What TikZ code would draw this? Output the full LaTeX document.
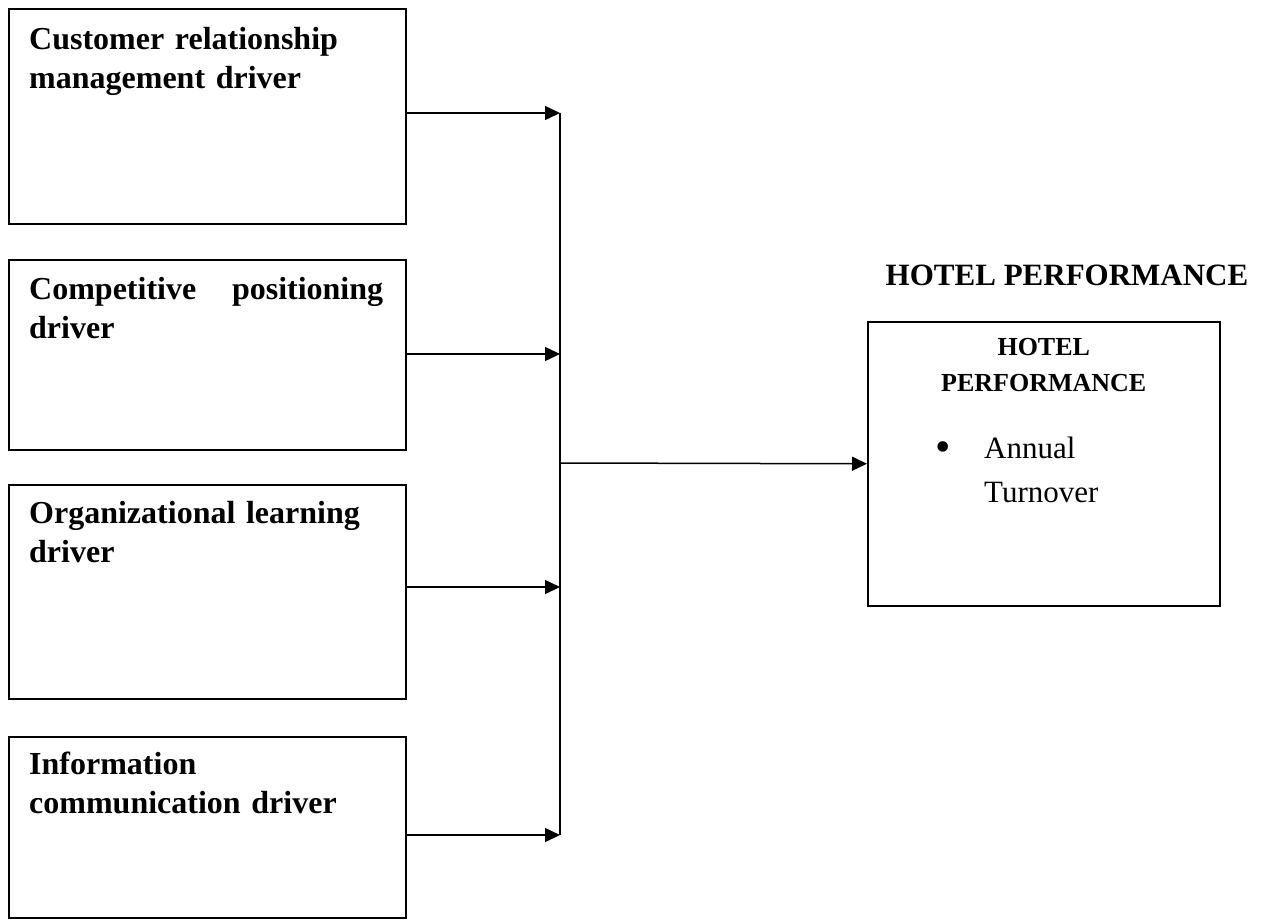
\documentclass[tikz,border=0pt]{standalone}
\usepackage{fontspec}
\setmainfont{Liberation Serif}
\usetikzlibrary{arrows.meta,positioning,calc}
\hyphenpenalty=10000
\exhyphenpenalty=10000

\begin{document}
\begin{tikzpicture}[x=1pt,y=-1pt,
  box/.style={draw,line width=1.5pt,inner sep=0pt,anchor=north west},
  drv/.style={anchor=base west,inner sep=0pt,text width=354pt,align=left,
    font=\fontsize{32}{39}\selectfont\bfseries},
  feed/.style={-{Triangle[length=15pt,width=14pt]},line width=1.5pt}]
  \useasboundingbox (0,0) rectangle (1269,922);

  % 左側の枠
  \node[box,minimum width=397pt,minimum height=215pt] (crm) at (8,8) {};
  \node[box,minimum width=397pt,minimum height=190pt] (comp) at (8,259) {};
  \node[box,minimum width=397pt,minimum height=214pt] (learn) at (8,484) {};
  \node[box,minimum width=397pt,minimum height=181pt] (info) at (8,736) {};

  \node[drv] (crmtxt) at ($(crm.north west)+(21,41)$) {Customer relationship management driver};
  \node[drv,align=justify] (comptxt) at ($(comp.north west)+(21,40)$) {Competitive positioning driver};
  \node[drv] (learntxt) at ($(learn.north west)+(21,39)$) {Organizational learning driver};
  \node[drv] (infotxt) at ($(info.north west)+(21,38)$) {Information communication driver};

  % 右側の枠
  \node[box,minimum width=352pt,minimum height=284pt] (perf) at (867,321) {};
  \node[anchor=base,inner sep=0pt,text width=352pt,align=center,font=\fontsize{26}{36}\selectfont\bfseries]
    (perftxt) at ($(perf.north)+(0,34)$) {HOTEL\\PERFORMANCE};
  \node[inner sep=0pt,font=\fontsize{44}{44}\selectfont] (dot) at (943,452) {\textbullet};
  \node[anchor=base west,inner sep=0pt,text width=200pt,align=left,font=\fontsize{31}{44}\selectfont]
    (turn) at (984,458) {Annual\\Turnover};
  \node[anchor=base,inner sep=0pt,font=\fontsize{31}{31}\selectfont\bfseries]
    (title) at (1067,285) {HOTEL PERFORMANCE};

  % 縦の線と矢印
  \coordinate (j1) at (560,113);
  \coordinate (j2) at (560,354);
  \coordinate (j3) at (560,587);
  \coordinate (j4) at (560,835);
  \coordinate (jm) at (560,463);
  \draw[line width=1.5pt] (j1) -- (j4);
  \draw[feed] (crm.east |- j1) -- (j1);
  \draw[feed] (comp.east |- j2) -- (j2);
  \draw[feed] (learn.east |- j3) -- (j3);
  \draw[feed] (info.east |- j4) -- (j4);
  \draw[feed] (jm) -- (perf.west);
\end{tikzpicture}
\end{document}
